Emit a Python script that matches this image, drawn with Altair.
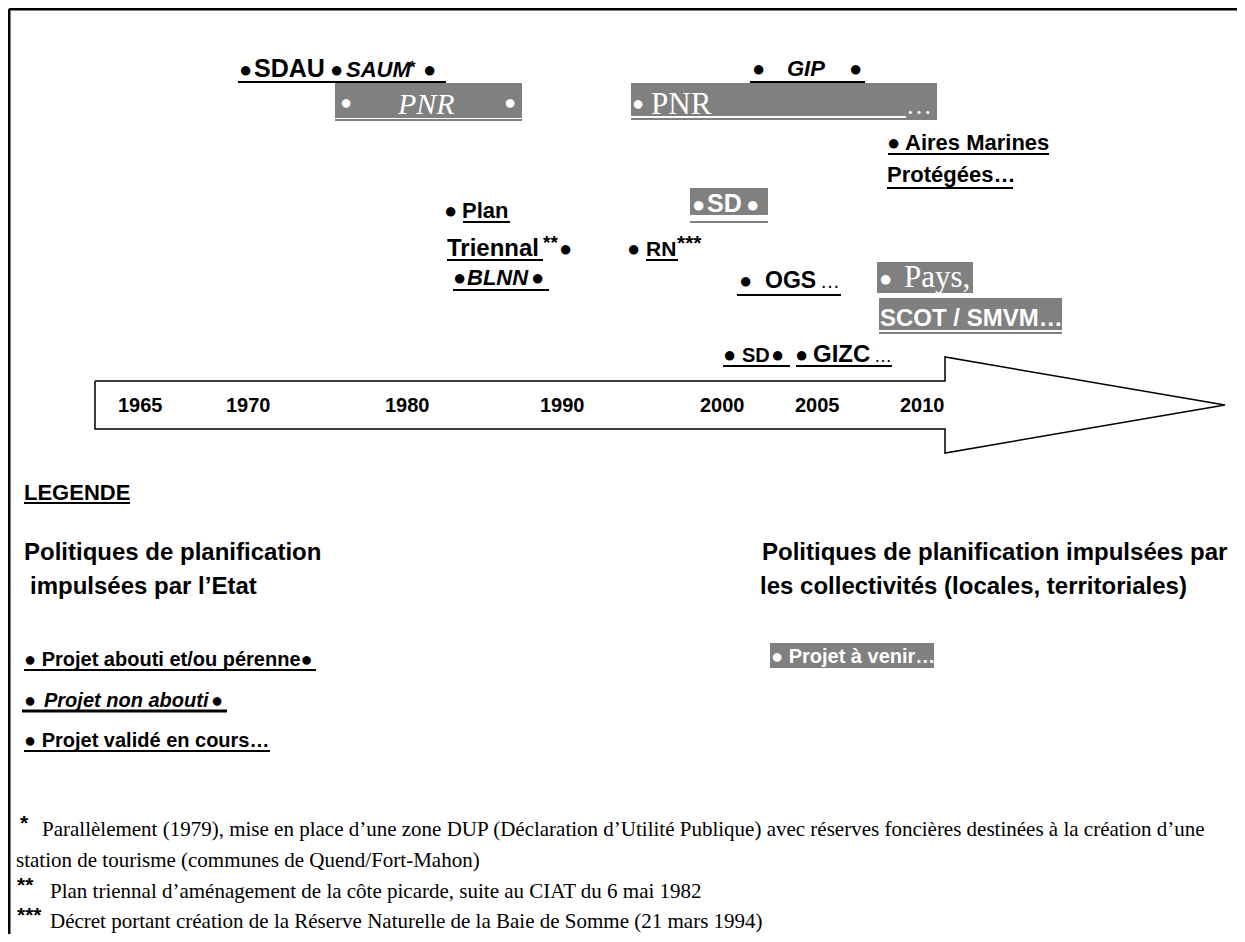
import altair as alt
import pandas as pd

# ---------------- content ----------------
YEARS = ["1965", "1970", "1980", "1990", "2000", "2005", "2010"]
FOOTNOTE_MARKS = ["*", "**", "***"]
FOOTNOTES = [
    "Parallèlement (1979), mise en place d’une zone DUP (Déclaration d’Utilité Publique) avec réserves foncières destinées à la création d’une",
    "station de tourisme (communes de Quend/Fort-Mahon)",
    "Plan triennal d’aménagement de la côte picarde, suite au CIAT du 6 mai 1982",
    "Décret portant création de la Réserve Naturelle de la Baie de Somme (21 mars 1994)",
]
LEGEND_TITLE = "LEGENDE"
LEGEND_LEFT = ["Politiques de planification", "impulsées par l’Etat"]
LEGEND_RIGHT = ["Politiques de planification impulsées par", "les collectivités (locales, territoriales)"]
LEGEND_ITEMS = ["● Projet abouti et/ou pérenne●", "Projet non abouti", "● Projet validé en cours…", "● Projet à venir…"]

# ---------------- layout ----------------
B = "#000000"
W = "#ffffff"
G = "#808080"
SANS = "Liberation Sans, Arial"
SERIF = "Liberation Serif, Times New Roman"

texts = []
def T(txt, x, y, size, fmt="B", color=B):
    texts.append(dict(txt=txt, x=x, y=y, sz=size, col=color, fmt=fmt))

rules = []
def U(x1, x2, y, w=2, color=B):
    rules.append(dict(x=x1, x2=x2, y=y, w=w, col=color))

rects = []
def R(x1, x2, y1, y2, color=G):
    rects.append(dict(x=x1, x2=x2, y=y1, y2=y2, col=color))

# frame
U(9, 1237, 9, 3)
rules_v = [dict(x=9, y=9, y2=934, w=3, col=B)]

# SDAU / SAUM
T("●", 239, 77, 22)
T("SDAU", 254, 77, 25)
T("●", 330, 77, 22)
T("SAUM", 346, 77, 22, "BI")
T("*", 409, 73, 17)
T("●", 423, 77, 22)
U(238, 446, 82)
# PNR box 1
R(335, 522, 83, 118)
U(335, 522, 120, 2, G)
T("●", 340, 109, 20, "S", W)
T("PNR", 398, 114, 30, "SI", W)
T("●", 504, 109, 20, "S", W)
# GIP
T("●", 752, 76, 22)
T("GIP", 787, 76, 22, "BI")
T("●", 849, 76, 22)
U(750, 865, 82)
# PNR box 2
R(631, 937, 83, 120)
U(631, 906, 117, 2, W)
T("●", 632, 110, 20, "S", W)
T("PNR", 651, 114, 31, "S", W)
T("…", 906, 114, 26, "S", W)
# Aires marines
T("●", 887, 150, 22)
T("Aires Marines", 905, 150, 22)
U(888, 1049, 154)
T("Protégées…", 887, 182, 22)
U(887, 1013, 188)
# Plan triennal
T("●", 444, 218, 22)
T("Plan", 462, 218, 22)
U(463, 510, 222)
T("Triennal", 447, 256, 24)
T("**", 543, 249, 19)
T("●", 559, 256, 22)
U(447, 543, 260)
# BLNN
T("●", 453, 285, 22)
T("BLNN", 467, 285, 22, "BI")
T("●", 531, 285, 22)
U(453, 549, 290)
# RN
T("●", 627, 256, 22)
T("RN", 646, 256, 21)
T("***", 677, 250, 21)
U(646, 678, 260)
# SD grey
R(690, 768, 188, 215)
U(690, 768, 222, 2, G)
T("●", 692, 212, 22, "B", W)
T("SD", 707, 212, 25, "B", W)
T("●", 746, 212, 22, "B", W)
# OGS
T("●", 739, 288, 22)
T("OGS", 765, 288, 23)
T("…", 820, 288, 20, "R")
U(737, 841, 295)
# Pays / SCOT
R(877, 973, 262, 293)
T("●", 879, 286, 22, "S", W)
T("Pays,", 904, 287, 31, "S", W)
R(879, 1062, 298, 330)
U(879, 1062, 333, 2, G)
T("SCOT / SMVM…", 880, 326, 24, "B", W)
# SD / GIZC
T("●", 723, 362, 22)
T("SD", 742, 362, 20)
T("●", 771, 362, 22)
U(723, 790, 366)
T("●", 795, 362, 22)
T("GIZC", 813, 362, 24)
T("…", 874, 362, 18, "R")
U(796, 892, 366)
# years
for yr, xx in zip(YEARS, [118, 226, 385, 540, 700, 795, 900]):
    T(yr, xx, 412, 20)
# legend
T(LEGEND_TITLE, 24, 500, 22)
U(24, 130, 503)
T(LEGEND_LEFT[0], 24, 560, 24)
T(LEGEND_LEFT[1], 30, 594, 24)
T(LEGEND_RIGHT[0], 762, 560, 24)
T(LEGEND_RIGHT[1], 760, 594, 24)
T(LEGEND_ITEMS[0], 24, 666, 20)
U(24, 316, 670)
T("●", 24, 707, 20)
T(LEGEND_ITEMS[1], 44, 707, 20, "BI")
T("●", 211, 707, 20)
U(22, 227, 711, 3)
T(LEGEND_ITEMS[2], 24, 747, 20)
U(24, 270, 751)
R(770, 934, 643, 668)
T(LEGEND_ITEMS[3], 771, 663, 20, "B", W)
# footnotes
T(FOOTNOTE_MARKS[0], 20, 830, 21)
T(FOOTNOTES[0], 42, 836, 21, "S")
T(FOOTNOTES[1], 16, 867, 21, "S")
T(FOOTNOTE_MARKS[1], 17, 892, 21)
T(FOOTNOTES[2], 50, 898, 21, "S")
T(FOOTNOTE_MARKS[2], 17, 922, 21)
T(FOOTNOTES[3], 50, 928, 21, "S")

arrow = pd.DataFrame({
    "x": [95, 945, 945, 1225, 945, 945, 95, 95],
    "y": [381, 381, 357, 405, 453, 429, 429, 381],
    "o": list(range(8)),
})

XS = alt.Scale(domain=[8, 1237], nice=False, zero=False)
YS = alt.Scale(domain=[8, 934], nice=False, zero=False, reverse=True)

tdf = pd.DataFrame(texts)
rdf = pd.DataFrame(rules)
vdf = pd.DataFrame(rules_v)
bdf = pd.DataFrame(rects)

layers = []
layers.append(alt.Chart(bdf).mark_rect().encode(
    x=alt.X("x:Q", scale=XS, axis=None), x2="x2:Q",
    y=alt.Y("y:Q", scale=YS, axis=None), y2="y2:Q",
    color=alt.Color("col:N", scale=None)))
layers.append(alt.Chart(arrow).mark_line(color="black", strokeWidth=1.5).encode(
    x=alt.X("x:Q", scale=XS, axis=None), y=alt.Y("y:Q", scale=YS, axis=None), order="o:Q"))
layers.append(alt.Chart(rdf).mark_rule().encode(
    x=alt.X("x:Q", scale=XS, axis=None), x2="x2:Q",
    y=alt.Y("y:Q", scale=YS, axis=None),
    size=alt.Size("w:Q", scale=None), color=alt.Color("col:N", scale=None)))
layers.append(alt.Chart(vdf).mark_rule().encode(
    x=alt.X("x:Q", scale=XS, axis=None),
    y=alt.Y("y:Q", scale=YS, axis=None), y2="y2:Q",
    size=alt.Size("w:Q", scale=None), color=alt.Color("col:N", scale=None)))

styles = {
    "B": dict(font=SANS, fontWeight="bold", fontStyle="normal"),
    "BI": dict(font=SANS, fontWeight="bold", fontStyle="italic"),
    "R": dict(font=SANS, fontWeight="normal", fontStyle="normal"),
    "S": dict(font=SERIF, fontWeight="normal", fontStyle="normal"),
    "SI": dict(font=SERIF, fontWeight="normal", fontStyle="italic"),
}
for key, st in styles.items():
    sub = tdf[tdf.fmt == key]
    if len(sub) == 0:
        continue
    layers.append(alt.Chart(sub).mark_text(align="left", baseline="alphabetic", **st).encode(
        x=alt.X("x:Q", scale=XS, axis=None), y=alt.Y("y:Q", scale=YS, axis=None),
        text="txt:N", size=alt.Size("sz:Q", scale=None), color=alt.Color("col:N", scale=None)))

chart = alt.layer(*layers).properties(
    width=1229, height=926, padding=0,
    autosize=alt.AutoSizeParams(type="none"),
).configure_view(stroke=None)

chart.save("out.html", embed_options={"renderer": "svg", "actions": False})
